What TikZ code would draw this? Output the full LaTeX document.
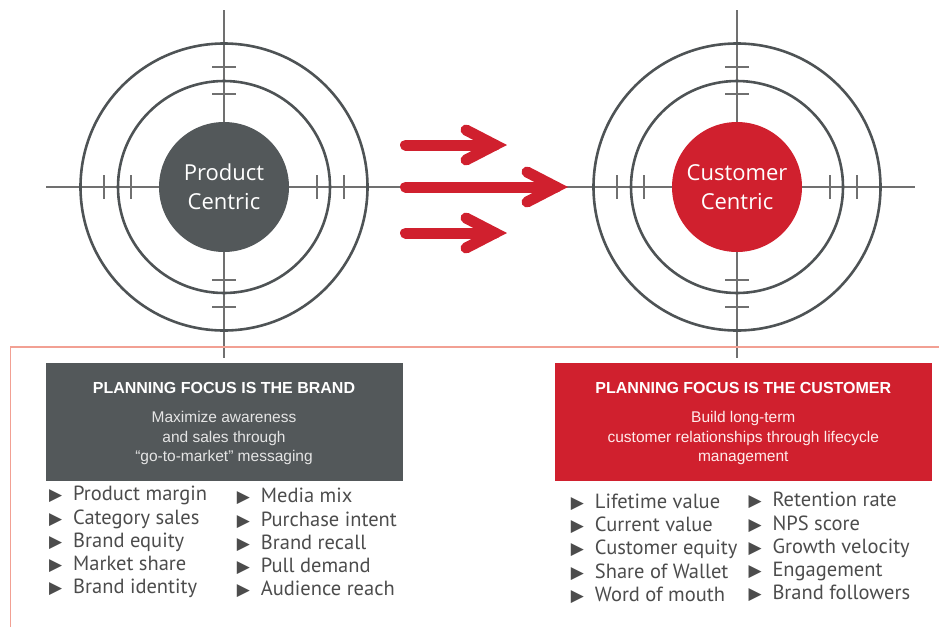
\documentclass[tikz,border=0pt]{standalone}
\usepackage{fontspec}
\setmainfont{Liberation Sans}
\newfontfamily\hubfont{Open Sans}
\newfontfamily\listfont{PT Sans}
\newfontfamily\symfont{DejaVu Sans}
\usetikzlibrary{positioning}
\definecolor{hubgray}{HTML}{53585A}
\definecolor{hubred}{HTML}{D0202E}
\definecolor{ringgray}{HTML}{4E5355}
\definecolor{hairgray}{HTML}{707070}
\definecolor{framered}{HTML}{F2A093}
\definecolor{listgray}{HTML}{4C4C4C}
\newcommand{\bul}{\makebox[24pt][l]{\symfont\fontsize{17}{17}\selectfont ▶}}

\begin{document}
\begin{tikzpicture}[x=1pt, y=-1pt,
    hub/.style={circle, minimum size=130pt, inner sep=0pt, text=white, align=center, font=\hubfont\fontsize{22}{29}\selectfont},
    ring/.style={draw=ringgray, line width=2.6pt},
    hair/.style={draw=hairgray, line width=1.2pt},
    push/.style={draw=hubred, line width=11pt, line cap=round, line join=miter},
    frame/.style={draw=framered, line width=1.5pt},
    focusbox/.style={minimum width=357pt, minimum height=118pt, inner sep=0pt},
    boxtitle/.style={anchor=base, inner sep=0pt, text=white, font=\bfseries\fontsize{16}{19}\selectfont},
    boxtext/.style={anchor=base, inner sep=0pt, align=center, font=\fontsize{15.5}{19.3}\selectfont},
    item/.style={anchor=base west, inner sep=0pt, text=listgray, font=\listfont\fontsize{20.5}{23}\selectfont}
    ]
\useasboundingbox (0,0) rectangle (939,627);

\coordinate (pc) at (224,187);
\coordinate (cc) at (737,187);

% cross hairs and rings
\foreach \h in {pc, cc} {
    \draw[hair] ([xshift=-178pt]\h) -- ([xshift=178pt]\h);
    \draw[hair] ([yshift=177pt]\h) -- ([yshift=-171pt]\h);
    \foreach \r in {93, 120} {
        \draw[hair] ([xshift=-12pt, yshift=\r pt]\h) -- ++(24,0);
        \draw[hair] ([xshift=-12pt, yshift=-\r pt]\h) -- ++(24,0);
        \draw[hair] ([xshift=\r pt, yshift=12pt]\h) -- ++(0,24);
        \draw[hair] ([xshift=-\r pt, yshift=12pt]\h) -- ++(0,24);
    }
    \draw[ring] (\h) circle[radius=106];
    \draw[ring] (\h) circle[radius=143.5];
}

\node[hub, fill=hubgray] (prod) at (pc) {Product\\Centric};
\node[hub, fill=hubred] (cust) at (cc) {Customer\\Centric};

% arrows
\foreach \y/\tip in {145/495, 187/556, 233/495} {
    \draw[push] (405.5,\y) -- (\tip,\y);
    \draw[push] (\tip-29,\y-15) -- (\tip,\y) -- (\tip-29,\y+15);
}

\draw[frame] (10.5,627) -- (10.5,347) -- (939,347);

% focus boxes
\node[focusbox, fill=hubgray] (brand) at (224,422) {};
\node[boxtitle] (brandt) at (224,393.3) {PLANNING FOCUS IS THE BRAND};
\node[boxtext, text=black!10] (brandd) at (224,461.5) {Maximize awareness\\and sales through\\“go-to-market” messaging};

\node[focusbox, minimum width=377pt, fill=hubred] (custb) at (743.3,422) {};
\node[boxtitle] (custt) at (743.3,393.3) {PLANNING FOCUS IS THE CUSTOMER};
\node[boxtext, text=red!8] (custd) at (743.3,461.5) {Build long-term\\customer relationships through lifecycle\\management};

% metric lists
\foreach \t [count=\i] in {Product margin, Category sales, Brand equity, Market share, Brand identity}
    \node[item] (pa\i) at (49, 477.4+23.3*\i) {\bul\t};
\foreach \t [count=\i] in {Media mix, Purchase intent, Brand recall, Pull demand, Audience reach}
    \node[item] (pb\i) at (236.7, 479.4+23.3*\i) {\bul\t};
\foreach \t [count=\i] in {Lifetime value, Current value, Customer equity, Share of Wallet, Word of mouth}
    \node[item] (ca\i) at (570.7, 485+23.3*\i) {\bul\t};
\foreach \t [count=\i] in {Retention rate, NPS score, Growth velocity, Engagement, Brand followers}
    \node[item] (cb\i) at (748.3, 483.4+23.3*\i) {\bul\t};

\end{tikzpicture}
\end{document}
